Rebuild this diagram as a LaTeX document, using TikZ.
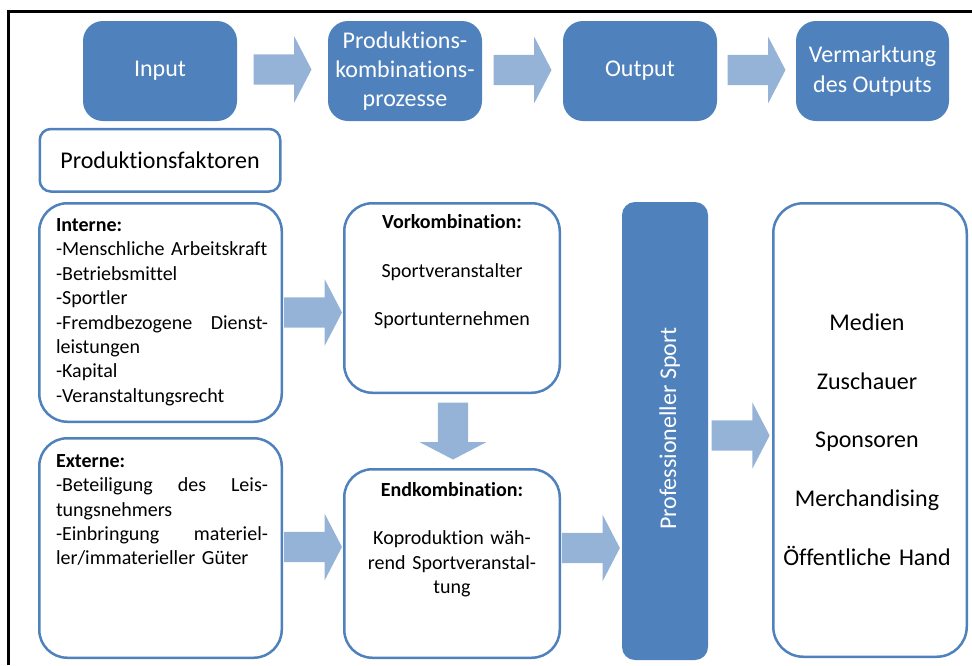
\documentclass[tikz,border=0pt]{standalone}
\usepackage{fontspec}
\setmainfont[Ligatures=NoCommon]{Carlito}
\usepackage{tikz}
\usetikzlibrary{shapes.arrows, positioning, calc}
\definecolor{boxblue}{RGB}{79,129,189}
\definecolor{arrowblue}{RGB}{149,179,215}
\newcommand{\boxfont}{\fontsize{24}{29.3}\selectfont}
\newcommand{\listfont}{\fontsize{20}{24.4}\selectfont}
\tikzset{
	outer sep=0pt,
	stage/.style={rectangle, rounded corners=20pt, fill=boxblue, text=white, font=\boxfont, align=center, minimum width=154pt, minimum height=100pt, inner sep=0pt},
	panel/.style={rectangle, rounded corners=28pt, draw=boxblue, line width=2.5pt, fill=white},
	paneltext/.style={inner sep=0pt, font=\listfont},
	blockarrow/.style={single arrow, fill=arrowblue, inner sep=0pt, text height=15pt, text depth=15pt, minimum height=58pt, single arrow head extend=18pt, single arrow tip angle=125, anchor=tail}
}

\begin{document}
\begin{tikzpicture}
	[x=1pt, y=1pt]
	\useasboundingbox (0,0) rectangle (972,-665);
	\draw[line width=2.5pt] (8.7,-665) -- (8.7,-11.3) -- (972,-11.3);

	\node (input) [stage] at (160,-71) {Input};
	\node (proz) [stage, right=91pt of input] {Produktions-\\kombinations-\\prozesse};
	\node (output) [stage, right=81pt of proz] {Output};
	\node (markt) [stage, right=79pt of output, minimum width=153pt] {Vermarktung\\des Outputs};

	\node (faktoren) [panel, rounded corners=11pt, font=\boxfont, minimum width=240.5pt, minimum height=62.5pt, below=8pt of input] {Produktionsfaktoren};
	\node (interne) [panel, minimum width=242.5pt, minimum height=218.5pt] at (160.5,-312.5) {};
	\node (externe) [panel, minimum width=242.5pt, minimum height=219.5pt] at (160.5,-548) {};
	\node (vork) [panel, minimum width=215.5pt, minimum height=189.5pt] at (452,-298) {};
	\node (endk) [panel, minimum width=215.5pt, minimum height=188.5pt] at (452,-563.5) {};
	\node (prof) [stage, rounded corners=13pt, minimum width=86pt, minimum height=458pt] at (665,-431) {};
	\node (media) [panel, rounded corners=30pt, minimum width=193.5pt, minimum height=453.5pt] at (870,-430) {};

	\node (internetext) [paneltext, text width=212pt, anchor=base west] at ([shift={(16.75,-28.25)}]interne.north west) {\textbf{Interne:}\\
		-Menschliche Arbeitskraft\\
		-Betriebsmittel\\
		-Sportler\\
		-Fremdbezogene\hfill Dienst-\\
		leistungen\\
		-Kapital\\
		-Veranstaltungsrecht};
	\node (externetext) [paneltext, text width=212pt, anchor=base west] at ([shift={(16.75,-29)}]externe.north west) {\textbf{Externe:}\\
		-Beteiligung\hfill des\hfill Leis-\\
		tungsnehmers\\
		-Einbringung\hfill materiel-\\
		ler/immaterieller Güter};
	\node (vorktext) [paneltext, text width=200pt, align=center, anchor=base] at ([shift={(0,-25)}]vork.north) {\textbf{Vorkombination:}\\[24.4pt]
		Sportveranstalter\\[24.4pt]
		Sportunternehmen};
	\node (endktext) [paneltext, text width=200pt, align=center, anchor=base] at ([shift={(0,-26.75)}]endk.north) {\textbf{Endkombination:}\\[24.4pt]
		Koproduktion wäh-\\
		rend Sportveranstal-\\
		tung};
	\node (mediatext) [paneltext, font=\boxfont, text width=190pt, align=center, anchor=base] at ([shift={(-3,-127.5)}]media.north) {Medien\\[29.3pt]
		Zuschauer\\[29.3pt]
		Sponsoren\\[29.3pt]
		Merchandising\\[29.3pt]
		Öffentliche Hand};
	\node (proftext) [rotate=90, anchor=base, inner sep=0pt, text=white, font=\boxfont] at ([shift={(11,2.5)}]prof.center) {Professioneller Sport};

	\node (a1) [blockarrow] at ($(input.east)!.5!(proz.west)+(-29,1.5)$) {};
	\node (a2) [blockarrow] at ($(proz.east)!.5!(output.west)+(-29,1)$) {};
	\node (a3) [blockarrow] at ($(output.east)!.5!(markt.west)+(-29,1)$) {};
	\node (a4) [blockarrow] at ($(interne.east)!.5!(interne.east -| vork.west)+(-29,0)$) {};
	\node (a5) [blockarrow, rotate=-90, minimum height=57pt] at ($(vork.south)!.5!(endk.north)+(1,28.5)$) {};
	\node (a6) [blockarrow] at ($(externe.east)!.5!(externe.east -| endk.west)+(-29,1)$) {};
	\node (a7) [blockarrow] at ($(externe.east -| endk.east)!.5!(externe.east -| prof.west)+(-29,0)$) {};
	\node (a8) [blockarrow] at ($(prof.east)!.5!(prof.east -| media.west)+(-29,-4.5)$) {};
\end{tikzpicture}
\end{document}
